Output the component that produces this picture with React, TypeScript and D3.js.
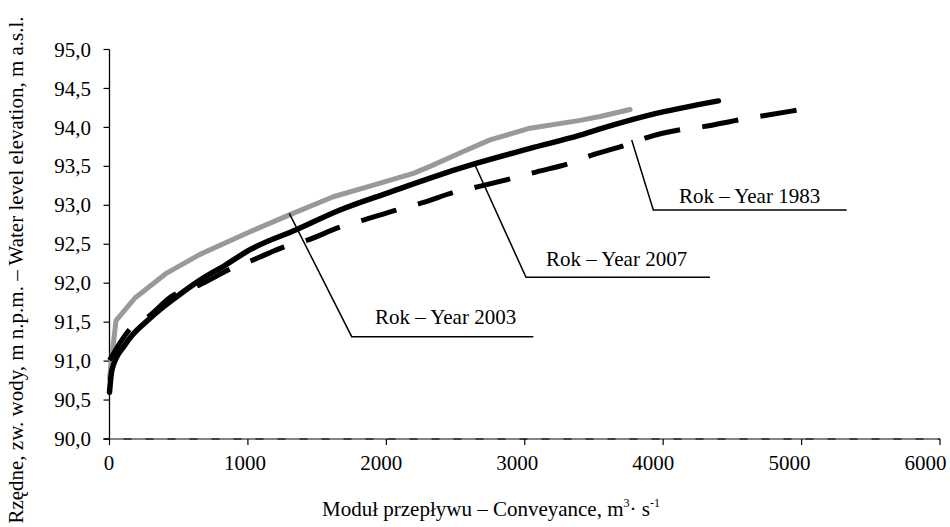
import React from "react";
import * as d3 from "d3";

const xTicks = [0, 1000, 2000, 3000, 4000, 5000, 6000];
const yTicks = [90, 90.5, 91, 91.5, 92, 92.5, 93, 93.5, 94, 94.5, 95];

const conv2003 = [0, 47, 184, 413, 654, 1015, 1304, 1617, 1906, 2195, 2316, 2556, 2749, 3038, 3400, 3544, 3761];
const elev2003 = [90.78, 91.52, 91.81, 92.13, 92.37, 92.66, 92.88, 93.11, 93.26, 93.41, 93.5, 93.69, 93.84, 93.99, 94.09, 94.14, 94.23];

const conv2007 = [0, 18, 112, 293, 473, 654, 835, 1015, 1353, 1665, 2027, 2316, 2653, 3038, 3400, 3544, 3906, 4399];
const elev2007 = [90.6, 90.89, 91.21, 91.55, 91.81, 92.04, 92.23, 92.43, 92.69, 92.94, 93.17, 93.35, 93.54, 93.73, 93.9, 93.98, 94.16, 94.34];

const conv1983 = [0, 148, 280, 449, 654, 883, 1039, 1268, 1425, 1665, 1834, 2075, 2256, 2496, 2665, 2918, 3087, 3327, 3496, 3725, 3882, 4122, 4290, 4555, 4724, 4965];
const elev1983 = [91.01, 91.41, 91.57, 91.83, 91.98, 92.19, 92.3, 92.47, 92.55, 92.72, 92.81, 92.94, 93.03, 93.17, 93.24, 93.35, 93.43, 93.54, 93.65, 93.77, 93.87, 93.97, 94.01, 94.1, 94.15, 94.22];

const labels = ["Rok – Year 2003", "Rok – Year 2007", "Rok – Year 1983"];

const FONT = "'Liberation Serif', 'Times New Roman', serif";
const FS = 21;

export default function App() {
  const x = d3.scaleLinear().domain([0, 6000]).range([109.5, 940]);
  const y = d3.scaleLinear().domain([90, 95]).range([439, 49.5]);
  // tick labels sit on a slightly narrower spacing than the ticks in the reference
  const xl = d3.scaleLinear().domain([0, 6000]).range([109, 925.5]);
  const line = d3
    .line<[number, number]>()
    .x((d) => x(d[0]))
    .y((d) => y(d[1]));
  const smooth = d3
    .line<[number, number]>()
    .x((d) => x(d[0]))
    .y((d) => y(d[1]))
    .curve(d3.curveMonotoneX);
  const zip = (a: number[], b: number[]) => a.map((v, i) => [v, b[i]] as [number, number]);

  const fmt = (v: number) => v.toFixed(1).replace(".", ",");

  // dash pattern fitted so the dashed line starts and ends with a dash
  const pts1983 = zip(conv1983, elev1983).map((d) => [x(d[0]), y(d[1])]);
  let L = 0;
  for (let i = 1; i < pts1983.length; i++) {
    L += Math.hypot(pts1983[i][0] - pts1983[i - 1][0], pts1983[i][1] - pts1983[i - 1][1]);
  }
  const baseDash = 36;
  const baseGap = 22;
  const n = Math.max(1, Math.round((L - baseDash) / (baseDash + baseGap)));
  const k = L / (n * (baseDash + baseGap) + baseDash);
  const dashArr = `${baseDash * k} ${baseGap * k}`;

  const leaders = [
    { pts: [[289.3, 213.3], [351.7, 336.7], [533.3, 336.7]], tx: 375, ty: 324, label: labels[0] },
    { pts: [[475, 165], [526, 277.3], [710, 277.3]], tx: 546, ty: 266, label: labels[1] },
    { pts: [[631.7, 140], [653.3, 210], [846.7, 210]], tx: 679, ty: 203, label: labels[2] },
  ];

  return (
    <svg
      width={950}
      height={527}
      style={{ position: "absolute", left: 0, top: 0, background: "#fff" }}
      fontFamily={FONT}
    >
      <rect x={0} y={0} width={950} height={527} fill="#fff" />
      {/* y axis */}
      <line x1={x(0)} x2={x(0)} y1={y(90)} y2={y(95)} stroke="#000" strokeWidth={1.3} />
      {yTicks.map((t) => (
        <g key={"y" + t}>
          <line x1={x(0) - 6} x2={x(0)} y1={y(t)} y2={y(t)} stroke="#000" strokeWidth={1.2} />
          <text x={91} y={y(t)} dy="0.34em" textAnchor="end" fontSize={FS} fill="#000">
            {fmt(t)}
          </text>
        </g>
      ))}
      {/* x axis */}
      <line x1={x(0) - 6} x2={x(6000)} y1={y(90)} y2={y(90)} stroke="#000" strokeWidth={1.5} />
      <line
        x1={x(0)}
        x2={x(6000)}
        y1={y(90)}
        y2={y(90)}
        stroke="#9a9a9a"
        strokeWidth={1.6}
        strokeDasharray="14 8"
      />
      {xTicks.map((t) => (
        <g key={"x" + t}>
          <line x1={x(t)} x2={x(t)} y1={y(90)} y2={y(90) + 6} stroke="#000" strokeWidth={1.2} />
          <text x={xl(t)} y={470} textAnchor="middle" fontSize={FS} fill="#000">
            {t}
          </text>
        </g>
      ))}

      {/* series */}
      <path
        d={line(zip(conv2003, elev2003)) || ""}
        fill="none"
        stroke="#999999"
        strokeWidth={5}
        strokeLinecap="round"
        strokeLinejoin="round"
      />
      <path
        d={smooth(zip(conv1983, elev1983)) || ""}
        fill="none"
        stroke="#000"
        strokeWidth={5}
        strokeDasharray={dashArr}
        strokeLinejoin="round"
      />
      <path
        d={smooth(zip(conv2007, elev2007)) || ""}
        fill="none"
        stroke="#000"
        strokeWidth={5.5}
        strokeLinecap="round"
        strokeLinejoin="round"
      />

      {/* annotations */}
      {leaders.map((l, i) => (
        <g key={"a" + i}>
          <polyline
            points={l.pts.map((p) => p.join(",")).join(" ")}
            fill="none"
            stroke="#000"
            strokeWidth={1.5}
          />
          <text x={l.tx} y={l.ty} fontSize={FS} fill="#000">
            {l.label}
          </text>
        </g>
      ))}

      {/* axis titles */}
      <text x={322} y={516} fontSize={FS} fill="#000">
        Moduł przepływu – Conveyance, m
        <tspan fontSize={12} dy={-9}>3</tspan>
        <tspan dy={9}>· s</tspan>
        <tspan fontSize={12} dy={-9}>-1</tspan>
      </text>
      <text
        transform="translate(23,270) rotate(-90)"
        textAnchor="middle"
        fontSize={FS}
        fill="#000"
      >
        Rzędne, zw. wody, m n.p.m. – Water level elevation, m a.s.l.
      </text>
    </svg>
  );
}
